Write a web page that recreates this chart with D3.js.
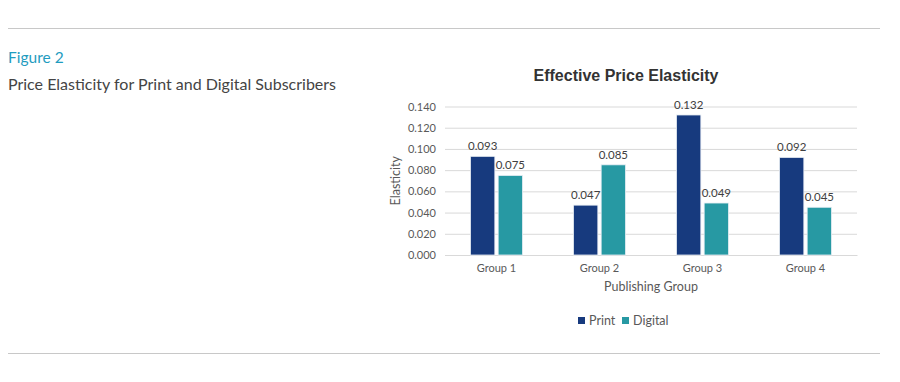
<!DOCTYPE html>
<html>
<head>
<meta charset="utf-8">
<script src="https://cdn.jsdelivr.net/npm/d3@7"></script>
<style>
  body { margin: 0; background: #fff; }
  svg { display: block; }
</style>
</head>
<body>
<div id="chart"></div>
<script>
// chart data
const groups = ["Group 1", "Group 2", "Group 3", "Group 4"];
const seriesNames = ["Print", "Digital"];
const printValues = [0.093, 0.047, 0.132, 0.092];
const digitalValues = [0.075, 0.085, 0.049, 0.045];
const yTicks = [0, 0.02, 0.04, 0.06, 0.08, 0.1, 0.12, 0.14];
const colors = ["#173a7e", "#2799a3"];

const W = 900, H = 382;
const FONT = "Lato, 'Open Sans', sans-serif";

let svg = d3.select("#chart").append("svg")
    .attr("width", W)
    .attr("height", H);

// page rules top and bottom
svg.append("line").attr("x1", 8).attr("x2", 880).attr("y1", 28.5).attr("y2", 28.5)
    .attr("stroke", "#c8c8c8").attr("stroke-width", 1);
svg.append("line").attr("x1", 8).attr("x2", 880).attr("y1", 353.5).attr("y2", 353.5)
    .attr("stroke", "#c8c8c8").attr("stroke-width", 1);

svg.append("text").attr("x", 8).attr("y", 63)
    .attr("font-family", FONT).attr("font-size", 15.5)
    .attr("fill", "#1f9cc0").text("Figure 2");
svg.append("text").attr("x", 8).attr("y", 90)
    .attr("font-family", FONT).attr("font-size", 16)
    .attr("fill", "#444").text("Price Elasticity for Print and Digital Subscribers");

// plot area
const plotL = 445, plotR = 857, plotT = 106.5, plotB = 255;

let x0 = d3.scaleBand().domain(groups).range([plotL, plotR]);
let x1 = d3.scaleBand().domain(seriesNames).range([0, 52]).paddingInner(0.12);
let y = d3.scaleLinear().domain([0, 0.14]).range([plotB, plotT]);

svg.append("text").attr("x", 626).attr("y", 81)
    .attr("text-anchor", "middle")
    .attr("font-family", "'Liberation Sans', Arial, sans-serif")
    .attr("font-weight", "bold").attr("font-size", 16)
    .attr("fill", "#333").text("Effective Price Elasticity");

// gridlines
let yAxis = d3.axisLeft(y).tickValues(yTicks).tickFormat(d3.format(".3f"))
    .tickSize(-(plotR - plotL)).tickPadding(9);
let gy = svg.append("g").attr("transform", "translate(" + plotL + ",0)").call(yAxis);
gy.select(".domain").remove();
gy.selectAll(".tick line").attr("stroke", "#d9d9d9");
gy.selectAll(".tick text").attr("font-family", FONT).attr("font-size", 11)
    .attr("fill", "#595959");

// x axis
let xAxis = d3.axisBottom(x0).tickSize(0).tickPadding(9);
let gx = svg.append("g").attr("transform", "translate(0," + plotB + ")").call(xAxis);
gx.select(".domain").attr("stroke", "#d9d9d9");
gx.selectAll(".tick text").attr("font-family", FONT).attr("font-size", 11)
    .attr("fill", "#595959");

svg.append("text").attr("x", plotL + (plotR - plotL) / 2).attr("y", 291)
    .attr("text-anchor", "middle").attr("font-family", FONT).attr("font-size", 12.5)
    .attr("fill", "#595959").text("Publishing Group");

svg.append("text")
    .attr("transform", "translate(400," + ((plotT + plotB) / 2) + ") rotate(-90)")
    .attr("text-anchor", "middle").attr("font-family", FONT).attr("font-size", 12.5)
    .attr("fill", "#595959").text("Elasticity");

// bars
let rows = groups.map((g, i) => ({group: g, values: [printValues[i], digitalValues[i]]}));
let offset = (x0.bandwidth() - 52) / 2;

let gg = svg.selectAll(".grp").data(rows).enter().append("g")
    .attr("transform", d => "translate(" + (x0(d.group) + offset) + ",0)");

gg.selectAll("rect").data(d => d.values.map((v, j) => ({name: seriesNames[j], v: v, j: j})))
    .enter().append("rect")
    .attr("x", d => x1(d.name))
    .attr("width", x1.bandwidth())
    .attr("y", d => y(d.v))
    .attr("height", d => plotB - y(d.v))
    .attr("fill", d => colors[d.j])
    .attr("stroke", "#e8eef4").attr("stroke-width", 0.8);

gg.selectAll(".lbl").data(d => d.values.map((v, j) => ({name: seriesNames[j], v: v})))
    .enter().append("text")
    .attr("x", d => x1(d.name) + x1.bandwidth() / 2)
    .attr("y", d => y(d.v) - 6)
    .attr("text-anchor", "middle").attr("font-family", FONT).attr("font-size", 11.5)
    .attr("fill", "#404040")
    .text(d => d3.format(".3f")(d.v));

// legend
let legX = [578, 622];
let lg = svg.selectAll(".leg").data(seriesNames).enter().append("g")
    .attr("transform", (d, i) => "translate(" + legX[i] + ",317)");
lg.append("rect").attr("width", 7).attr("height", 7).attr("fill", (d, i) => colors[i]);
lg.append("text").attr("x", 11).attr("y", 8)
    .attr("font-family", FONT).attr("font-size", 12.5).attr("fill", "#595959")
    .text(d => d);
</script>
</body>
</html>
